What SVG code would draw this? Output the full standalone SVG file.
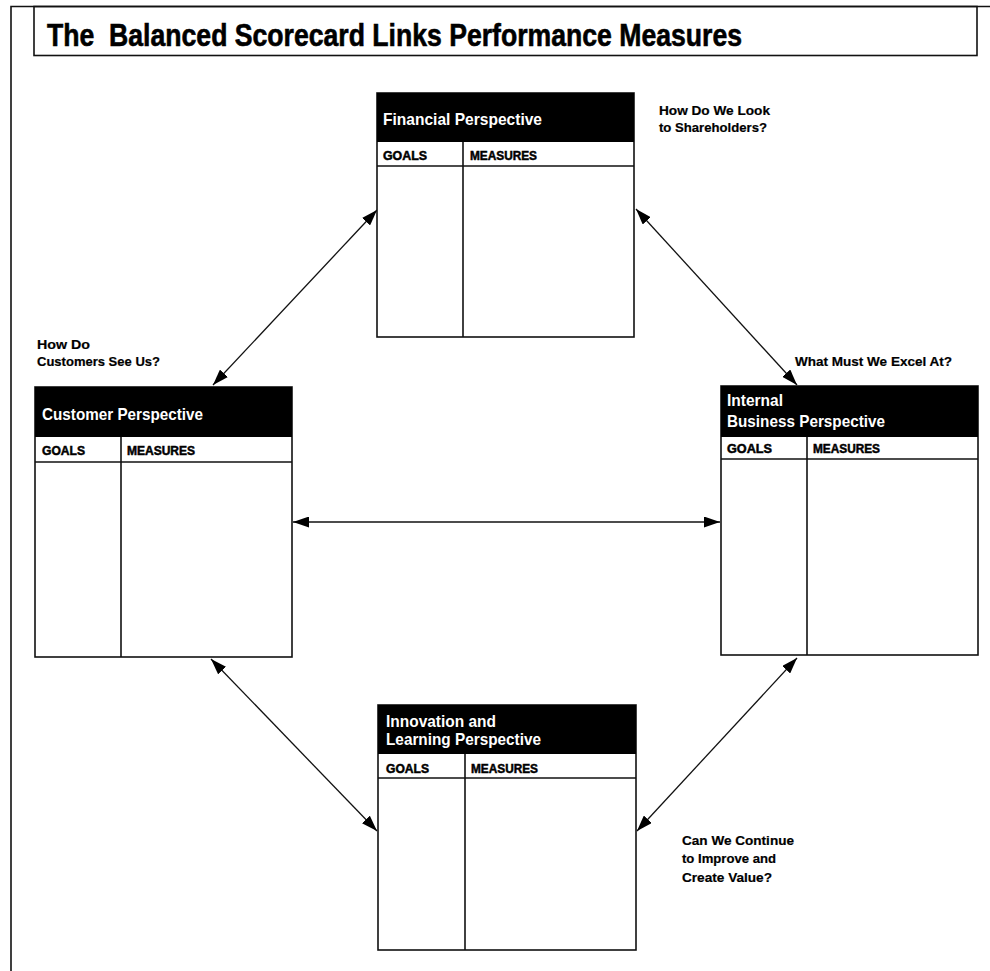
<svg xmlns="http://www.w3.org/2000/svg" width="990" height="971" viewBox="0 0 990 971">
<defs>
<style>
.frame{fill:none;stroke:#111;stroke-width:1.6}
.box{fill:#fff;stroke:#111;stroke-width:1.6}
.hdr{fill:#000}
.ln{stroke:#111;stroke-width:1.6;fill:none}
.ht{font-family:"Liberation Sans",Arial,sans-serif;font-weight:bold;font-size:16.5px;fill:#fff}
.col{font-family:"Liberation Sans",Arial,sans-serif;font-weight:bold;font-size:12.5px;fill:#000;stroke:#000;stroke-width:0.5}
.lbl{font-family:"Liberation Sans",Arial,sans-serif;font-weight:bold;font-size:13px;fill:#000;stroke:#000;stroke-width:0.2}
.title{font-family:"Liberation Sans",Arial,sans-serif;font-weight:bold;font-size:31px;fill:#000;stroke:#000;stroke-width:0.6}
.arr{stroke:#111;stroke-width:1.3;fill:none;marker-start:url(#ah);marker-end:url(#ah)}
</style>
<marker id="ah" viewBox="0 0 16 11" refX="16" refY="5.5" markerWidth="16" markerHeight="11" markerUnits="userSpaceOnUse" orient="auto-start-reverse">
<path d="M0,0 L16,5.5 L0,11 Z" fill="#000"/>
</marker>
</defs>
<rect width="990" height="971" fill="#fff"/>
<g id="page">
<path class="frame" d="M11,971 V6.5 H990"/>
<rect class="frame" x="34" y="6.5" width="943" height="49"/>
<text class="title" x="47" y="46" textLength="695" lengthAdjust="spacingAndGlyphs" xml:space="preserve">The  Balanced Scorecard Links Performance Measures</text>
</g>
<g id="connectors">
<line class="arr" x1="377" y1="210" x2="213" y2="385"/>
<line class="arr" x1="636" y1="209" x2="797" y2="385"/>
<line class="arr" x1="293" y1="522" x2="720" y2="522"/>
<line class="arr" x1="211" y1="659" x2="377" y2="831"/>
<line class="arr" x1="797" y1="658" x2="637" y2="831"/>
</g>
<g id="financial">
<rect class="box" x="377" y="93" width="257" height="244"/>
<rect class="hdr" x="377" y="93" width="257" height="49"/>
<line class="ln" x1="377" y1="166" x2="634" y2="166"/>
<line class="ln" x1="463" y1="142" x2="463" y2="337"/>
<text class="ht" x="383" y="125" textLength="159" lengthAdjust="spacingAndGlyphs">Financial Perspective</text>
<text class="col" x="383" y="160" textLength="44" lengthAdjust="spacingAndGlyphs">GOALS</text>
<text class="col" x="470" y="160" textLength="67" lengthAdjust="spacingAndGlyphs">MEASURES</text>
</g>
<g id="customer">
<rect class="box" x="35" y="387" width="257" height="270"/>
<rect class="hdr" x="35" y="387" width="257" height="50"/>
<line class="ln" x1="35" y1="462" x2="292" y2="462"/>
<line class="ln" x1="121" y1="437" x2="121" y2="657"/>
<text class="ht" x="42" y="420" textLength="161" lengthAdjust="spacingAndGlyphs">Customer Perspective</text>
<text class="col" x="42" y="455" textLength="43" lengthAdjust="spacingAndGlyphs">GOALS</text>
<text class="col" x="127" y="455" textLength="68" lengthAdjust="spacingAndGlyphs">MEASURES</text>
</g>
<g id="internal">
<rect class="box" x="721" y="386" width="257" height="269"/>
<rect class="hdr" x="721" y="386" width="257" height="51"/>
<line class="ln" x1="721" y1="459" x2="978" y2="459"/>
<line class="ln" x1="807" y1="437" x2="807" y2="655"/>
<text class="ht" x="727" y="406" textLength="56" lengthAdjust="spacingAndGlyphs">Internal</text>
<text class="ht" x="727" y="427" textLength="158" lengthAdjust="spacingAndGlyphs">Business Perspective</text>
<text class="col" x="727" y="453" textLength="45" lengthAdjust="spacingAndGlyphs">GOALS</text>
<text class="col" x="813" y="453" textLength="67" lengthAdjust="spacingAndGlyphs">MEASURES</text>
</g>
<g id="innovation">
<rect class="box" x="378" y="705" width="258" height="245"/>
<rect class="hdr" x="378" y="705" width="258" height="49"/>
<line class="ln" x1="378" y1="778" x2="636" y2="778"/>
<line class="ln" x1="465" y1="754" x2="465" y2="950"/>
<text class="ht" x="386" y="727" textLength="110" lengthAdjust="spacingAndGlyphs">Innovation and</text>
<text class="ht" x="386" y="745" textLength="155" lengthAdjust="spacingAndGlyphs">Learning Perspective</text>
<text class="col" x="386" y="773" textLength="43" lengthAdjust="spacingAndGlyphs">GOALS</text>
<text class="col" x="471" y="773" textLength="67" lengthAdjust="spacingAndGlyphs">MEASURES</text>
</g>
<g id="labels">
<text class="lbl" x="659" y="115" textLength="111" lengthAdjust="spacingAndGlyphs">How Do We Look</text>
<text class="lbl" x="659" y="132" textLength="108" lengthAdjust="spacingAndGlyphs">to Shareholders?</text>
<text class="lbl" x="37" y="349" textLength="53" lengthAdjust="spacingAndGlyphs">How Do</text>
<text class="lbl" x="37" y="366" textLength="123" lengthAdjust="spacingAndGlyphs">Customers See Us?</text>
<text class="lbl" x="795" y="366" textLength="157" lengthAdjust="spacingAndGlyphs">What Must We Excel At?</text>
<text class="lbl" x="682" y="845" textLength="112" lengthAdjust="spacingAndGlyphs">Can We Continue</text>
<text class="lbl" x="682" y="863" textLength="94" lengthAdjust="spacingAndGlyphs">to Improve and</text>
<text class="lbl" x="682" y="882" textLength="90" lengthAdjust="spacingAndGlyphs">Create Value?</text>
</g>
</svg>
